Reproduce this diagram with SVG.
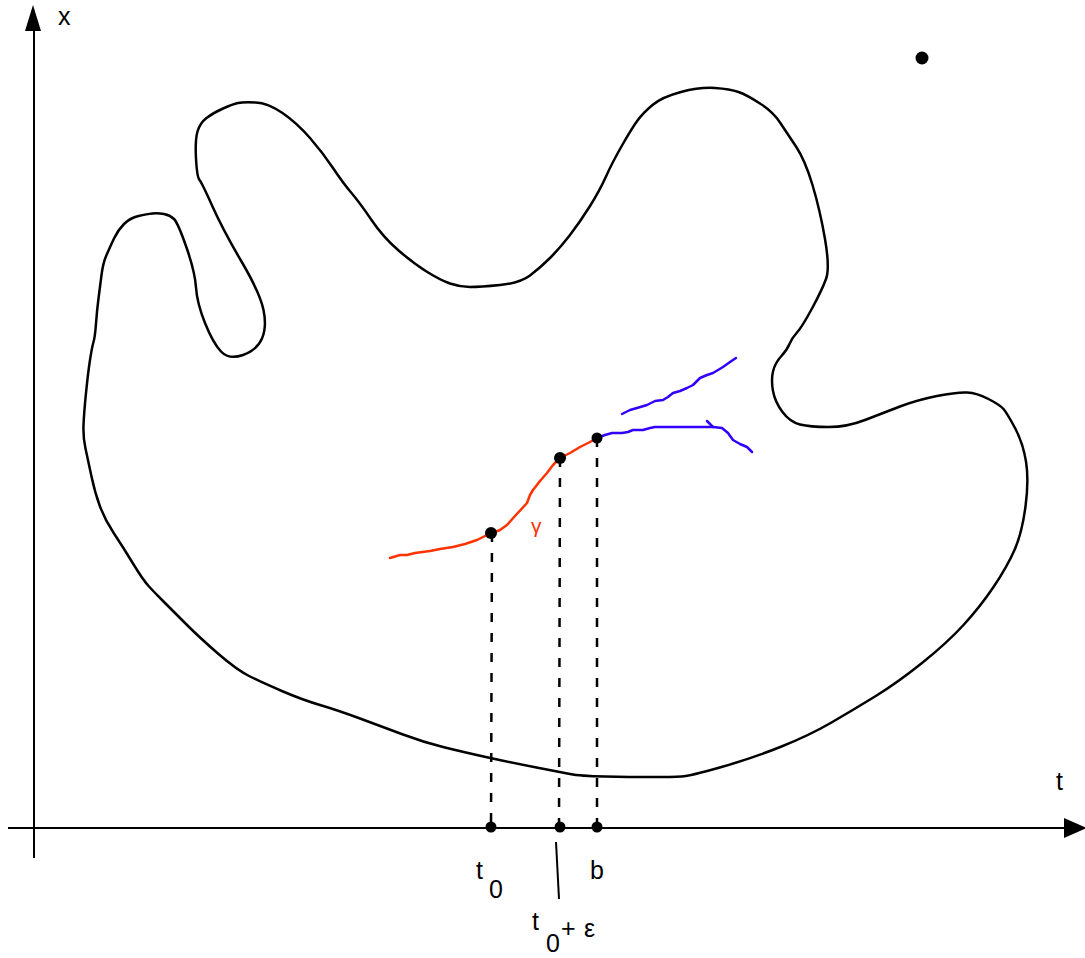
<svg xmlns="http://www.w3.org/2000/svg" width="1085" height="958" viewBox="0 0 1085 958">
<style>
.ax{stroke:#000;stroke-width:2;fill:none}
.blob{stroke:#000;stroke-width:2.5;fill:none;stroke-linejoin:round;stroke-linecap:round}
.dash{stroke:#000;stroke-width:2.5;fill:none;stroke-dasharray:9 11}
.red{stroke:#ff3300;stroke-width:2.5;fill:none;stroke-linejoin:round;stroke-linecap:round}
.blue{stroke:#3300ff;stroke-width:2.5;fill:none;stroke-linejoin:round;stroke-linecap:round}
.lbl{font-family:"Liberation Sans",Arial,sans-serif;font-size:25px;fill:#000}
.dot{fill:#000}
</style>
<rect width="1085" height="958" fill="#fff"/>
<g id="axes">
<line class="ax" x1="34" y1="858" x2="34" y2="28"/>
<polygon points="33,5 25,31 41,31" fill="#000"/>
<line class="ax" x1="8" y1="828" x2="1068" y2="828"/>
<polygon points="1087,828 1064,818 1064,838" fill="#000"/>
<text class="lbl" x="58" y="25">x</text>
<text class="lbl" x="1056" y="790">t</text>
</g>
<g id="region">
<path class="blob" d="M174,219 Q178,223 186.5,247.5 Q195,272 196,287.5 Q197,303 205,323 Q213,343 221,351.5 Q229,360 243,355 Q257,350 262,338.5 Q267,327 263.5,310 Q260,293 241.5,261.5 Q223,230 212.5,206.5 Q202,183 199.5,180 Q197,177 196,158.5 Q195,140 197.5,131.5 Q200,123 206.5,118 Q213,113 223,108.5 Q233,104 238,103 Q243,102 255.5,102.5 Q268,103 282.5,113 Q297,123 310,138 Q323,153 333,168 Q343,183 351.5,193 Q360,203 371.5,220 Q383,237 398,250 Q413,263 426.5,271.5 Q440,280 450,283.5 Q460,287 470,287 Q480,287 500,285 Q520,283 530,275.5 Q540,268 550,258 Q560,248 570,235 Q580,222 590,206 Q600,190 606,176.5 Q612,163 622,145.5 Q632,128 637.5,120.5 Q643,113 652.5,105 Q662,97 681,92 Q700,87 715,88 Q730,89 738.5,92 Q747,95 760,103.5 Q773,112 780,122.5 Q787,133 796,146.5 Q805,160 812.5,185 Q820,210 825,239 Q830,268 826,279 Q822,290 812,308.5 Q802,327 797,332.5 Q792,338 789.5,344 Q787,350 781,356.5 Q775,363 773,371.5 Q771,380 773,391 Q775,402 782.5,412 Q790,422 800,424.5 Q810,427 828.5,427 Q847,427 865,420 Q883,413 900,406.5 Q917,400 937,396 Q957,392 967,392.5 Q977,393 988.5,399 Q1000,405 1003.5,409 Q1007,413 1015,428 Q1023,443 1026,461.5 Q1029,480 1025.5,506.5 Q1022,533 1014.5,550 Q1007,567 993.5,587 Q980,607 963.5,625 Q947,643 922,663 Q897,683 875,696.5 Q853,710 831.5,722.5 Q810,735 781.5,746.5 Q753,758 721.5,767 Q690,776 681.5,776.5 Q673,777 651.5,777 Q630,777 605,776.5 Q580,776 570,774 Q560,772 536.5,767.5 Q513,763 488,757.5 Q463,752 443,747 Q423,742 403,734.5 Q383,727 360,718.5 Q337,710 320,705 Q303,700 283,691.5 Q263,683 250,676.5 Q237,670 218.5,654 Q200,638 185,623 Q170,608 162.5,600.5 Q155,593 149,586.5 Q143,580 133,563.5 Q123,547 114,533.5 Q105,520 100,506.5 Q95,493 91.5,476.5 Q88,460 85.5,448.5 Q83,437 83.5,425 Q84,413 86,393 Q88,373 90,360 Q92,347 93.5,342 Q95,337 96,323.5 Q97,310 98.5,298.5 Q100,287 101.5,275 Q103,263 106.5,255 Q110,247 114,238.5 Q118,230 124,224 Q130,218 138.5,216 Q147,214 152.5,213.5 Q158,213 164,214 Q170,215 174,219 Z"/>
</g>
<g id="point-top">
<circle class="dot" cx="922" cy="58" r="6.5"/>
</g>
<g id="connectors">
<line class="dash" x1="492" y1="533" x2="491" y2="827"/>
<line class="dash" x1="560" y1="458" x2="559" y2="827"/>
<line class="dash" x1="597" y1="438" x2="597" y2="827"/>
<line class="ax" x1="556" y1="842" x2="559" y2="899"/>
</g>
<g id="gamma">
<polyline class="red" points="390,558 400,555 407,555 415,553 430,551 440,549 453,547 465,544 477,540 485,536 492,533 500,530 507,525 515,516 527,503 530,495 533,490 540,481 547,473 553,465 560,458 570,453 580,447 590,442 597,438"/>
<text x="531" y="533" font-family="Liberation Sans,Arial,sans-serif" font-size="21" fill="#ff3300">γ</text>
</g>
<g id="extensions">
<polyline class="blue" points="597,438 605,435 612,433 622,433 628,432 633,430 643,430 650,428 655,427 713,427 722,428 728,433 733,440 740,444 747,447 750,450 752,452"/>
<polyline class="blue" points="707,421 713,427"/>
<polyline class="blue" points="622,414 630,410 637,408 647,405 655,401 663,400 668,397 673,393 680,391 687,388 693,385 697,381 700,378 707,375 713,373 718,370 723,367 730,362 736,358"/>
</g>
<g id="markers">
<circle class="dot" cx="491" cy="533" r="6"/>
<circle class="dot" cx="560" cy="458" r="6"/>
<circle class="dot" cx="597" cy="438" r="5.5"/>
<circle class="dot" cx="491" cy="827" r="5.5"/>
<circle class="dot" cx="560" cy="827" r="5.5"/>
<circle class="dot" cx="597" cy="827" r="5.5"/>
</g>
<g id="labels">
<text class="lbl" x="476" y="879">t</text>
<text class="lbl" x="489" y="898">0</text>
<text class="lbl" x="590" y="879">b</text>
<text class="lbl" x="532" y="930">t</text>
<text class="lbl" x="546" y="952">0</text>
<text class="lbl" x="561" y="937">+</text>
<text class="lbl" x="584" y="937" font-size="28">ε</text>
</g>
</svg>
